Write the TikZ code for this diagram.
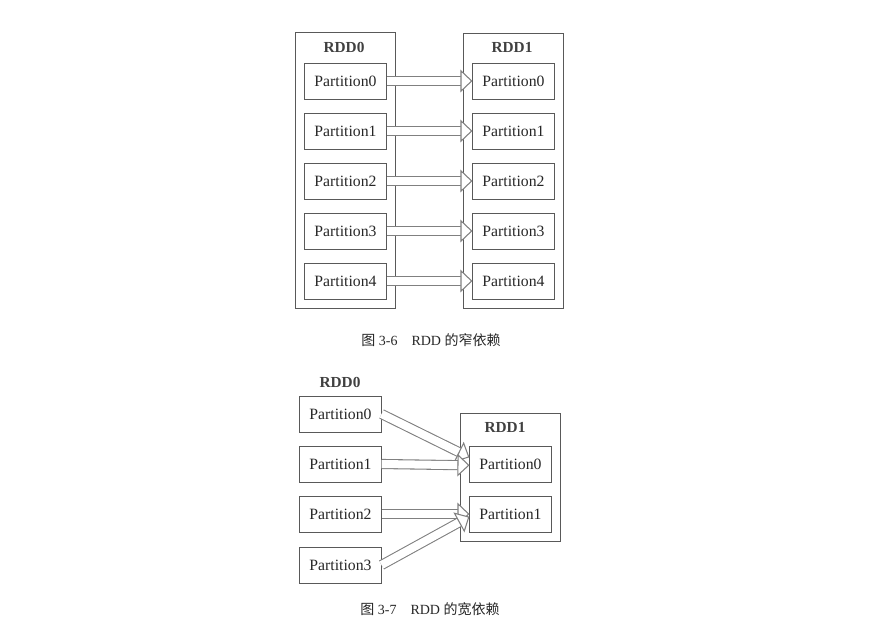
\documentclass[tikz,border=0pt]{standalone}
\usepackage{fontspec}
\setmainfont{Liberation Serif}
\newfontfamily\cjk{Noto Sans CJK SC}
\usetikzlibrary{arrows.meta,fit}

\begin{document}
\begin{tikzpicture}[x=0.75pt, y=-0.75pt, font=\fontsize{11.8}{13}\selectfont, text=black!85,
	part/.style={draw=black!65, line width=0.6pt, minimum width=61pt, minimum height=27pt, inner sep=0pt},
	rdd/.style={draw=black!65, line width=0.6pt, inner sep=6.5pt},
	lbl/.style={inner sep=0pt, font=\fontsize{11.5}{13}\selectfont\bfseries, text=black!75},
	dep/.style={draw=black!50, line width=0.8pt, double distance=6pt, -{Triangle[open, length=9pt, width=17pt, fill=white]}},
	figcap/.style={font=\fontsize{10.5}{12}\selectfont}]
		\useasboundingbox (0,0) rectangle (879,634);

		\path (344,47) node[lbl] (l0) {RDD0}
		(512,47) node[lbl] (l1) {RDD1}
		(345.5,81) node[part] (a0) {Partition0}
		(345.5,131) node[part] (a1) {Partition1}
		(345.5,181) node[part] (a2) {Partition2}
		(345.5,231) node[part] (a3) {Partition3}
		(345.5,281) node[part] (a4) {Partition4}
		(513.5,81) node[part] (b0) {Partition0}
		(513.5,131) node[part] (b1) {Partition1}
		(513.5,181) node[part] (b2) {Partition2}
		(513.5,231) node[part] (b3) {Partition3}
		(513.5,281) node[part] (b4) {Partition4}
		(431,340) node[figcap] (cap0) {{\cjk 图} 3-6\quad RDD {\cjk 的窄依赖}};

		\node[rdd, fit=(l0)(a0)(a4)] (rdd0) {};
		\node[rdd, fit=(l1)(b0)(b4)] (rdd1) {};

		\draw[dep] (a0) -- (b0);
		\draw[dep] (a1) -- (b1);
		\draw[dep] (a2) -- (b2);
		\draw[dep] (a3) -- (b3);
		\draw[dep] (a4) -- (b4);

		\path (340,382) node[lbl] (m0) {RDD0}
		(505,427) node[lbl] (m1) {RDD1}
		(340.5,414) node[part] (p0) {Partition0}
		(340.5,464) node[part] (p1) {Partition1}
		(340.5,514) node[part] (p2) {Partition2}
		(340.5,565) node[part] (p3) {Partition3}
		(510.5,464) node[part] (q0) {Partition0}
		(510.5,514) node[part] (q1) {Partition1}
		(430,609) node[figcap] (cap1) {{\cjk 图} 3-7\quad RDD {\cjk 的宽依赖}};

		\node[rdd, fit=(m1)(q0)(q1)] (rdd2) {};

		\draw[dep] (p0.east) -- ([yshift=5pt]q0.west);
		\draw[dep] (p1.east) -- ([yshift=-1pt]q0.west);
		\draw[dep] (p2.east) -- (q1.west);
		\draw[dep] (p3.east) -- ([yshift=-2pt]q1.west);
	\end{tikzpicture}
\end{document}
